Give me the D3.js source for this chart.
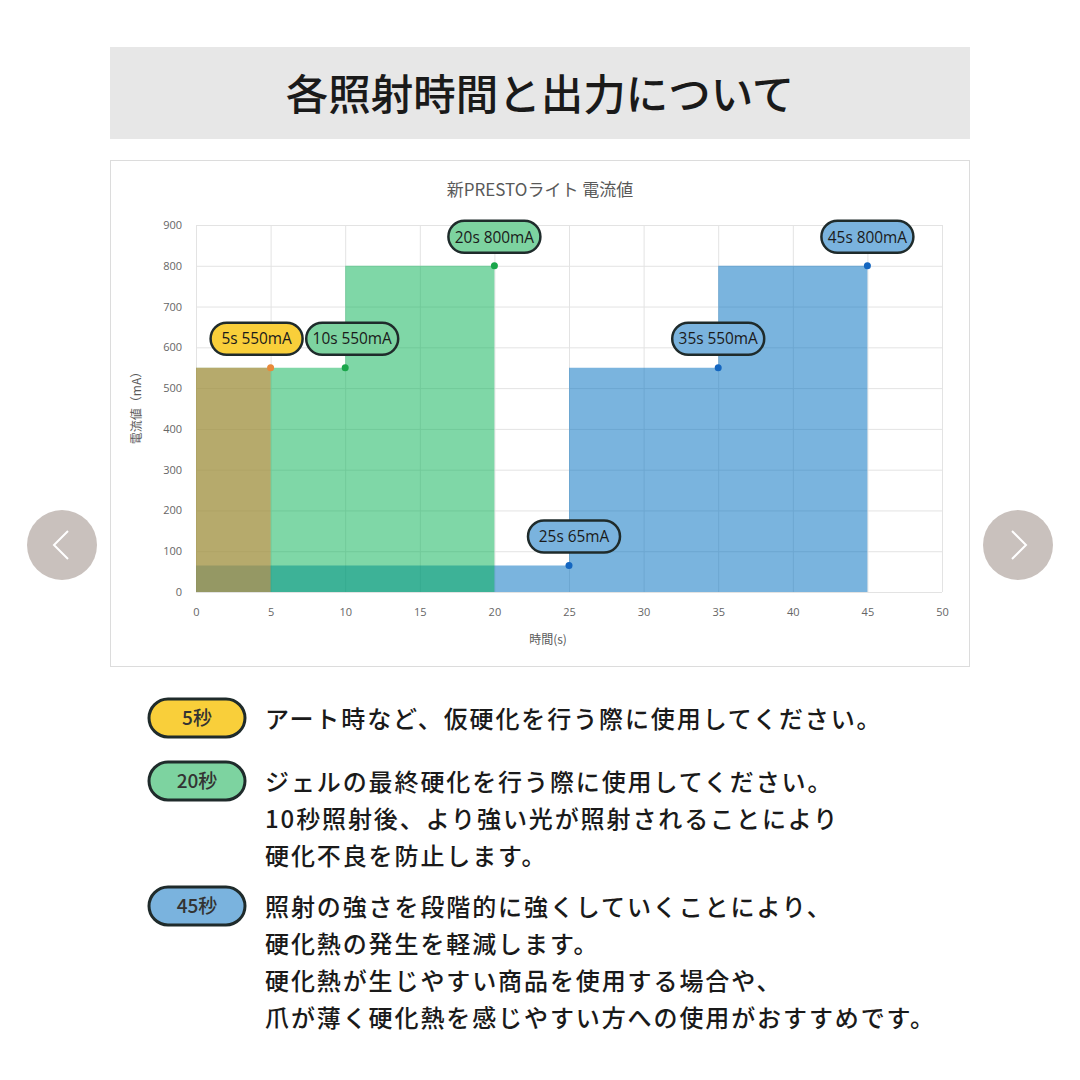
<!DOCTYPE html>
<html>
<head>
<meta charset="utf-8">
<script src="https://cdn.jsdelivr.net/npm/d3@7"></script>
<style>
  body { margin: 0; background: #fff; }
  svg { display: block; font-family: "Noto Sans CJK JP", "Noto Sans", sans-serif; }
</style>
</head>
<body>
<svg id="viz"></svg>
<script>
// chart data
const xTicks = [0, 5, 10, 15, 20, 25, 30, 35, 40, 45, 50];
const yTicks = [0, 100, 200, 300, 400, 500, 600, 700, 800, 900];

// each series: step ends (time, current)
const blueTimes = [0, 25, 35, 45];
const blueValues = [65, 65, 550, 800];
const greenTimes = [0, 10, 20];
const greenValues = [550, 550, 800];
const orangeTimes = [0, 5];
const orangeValues = [550, 550];

// callouts
const calloutTimes = [5, 10, 20, 25, 35, 45];
const calloutValues = [550, 550, 800, 65, 550, 800];
const calloutSeries = ["orange", "green", "green", "blue", "blue", "blue"];

// legend text below the chart
const legendTags = ["5秒", "20秒", "45秒"];
const legendSeries = ["orange", "green", "blue"];
const legendLines = [
  ["アート時など、仮硬化を行う際に使用してください。"],
  ["ジェルの最終硬化を行う際に使用してください。", "10秒照射後、より強い光が照射されることにより", "硬化不良を防止します。"],
  ["照射の強さを段階的に強くしていくことにより、", "硬化熱の発生を軽減します。", "硬化熱が生じやすい商品を使用する場合や、", "爪が薄く硬化熱を感じやすい方への使用がおすすめです。"]
];

const W = 1080, H = 1080;
const svg = d3.select("#viz").attr("width", W).attr("height", H);

// colours
const fills = { blue: "rgba(0,112,192,0.52)", green: "rgba(0,176,80,0.5)", orange: "rgba(237,125,49,0.5)" };
const dots = { blue: "#1466c0", green: "#1aa64a", orange: "#e88a3a" };
const tagFill = { blue: "#7ab3de", green: "#7dd3a0", orange: "#f9cf3a" };

// header bar
svg.append("rect").attr("x", 110).attr("y", 47).attr("width", 860).attr("height", 92).attr("fill", "#e7e7e7");
svg.append("text").attr("x", 540).attr("y", 110).attr("text-anchor", "middle")
  .attr("font-size", 42.5).attr("font-weight", 500).attr("fill", "#1a1a1a")
  .text("各照射時間と出力について");

// chart frame
svg.append("rect").attr("x", 110.5).attr("y", 160.5).attr("width", 859).attr("height", 506)
  .attr("fill", "#fff").attr("stroke", "#dcdcdc");

// carousel arrows
[62, 1018].forEach((cx, i) => {
  svg.append("circle").attr("cx", cx).attr("cy", 545).attr("r", 35).attr("fill", "#c9c1bd");
  const d = i === 0 ? `M${cx + 6},${545 - 14} L${cx - 8},545 L${cx + 6},${545 + 14}`
                    : `M${cx - 6},${545 - 14} L${cx + 8},545 L${cx - 6},${545 + 14}`;
  svg.append("path").attr("d", d).attr("fill", "none").attr("stroke", "#fff").attr("stroke-width", 2);
});

// plot area
const x = d3.scaleLinear().domain([0, 50]).range([196, 942]);
const y = d3.scaleLinear().domain([0, 900]).range([592, 225]);

svg.append("text").attr("x", 540).attr("y", 196).attr("text-anchor", "middle")
  .attr("font-size", 17).attr("fill", "#595959").text("新PRESTOライト 電流値");

// grid + axes
const gx = svg.append("g").attr("transform", "translate(0,592)")
  .call(d3.axisBottom(x).tickValues(xTicks).tickSize(-367).tickPadding(16));
const gy = svg.append("g").attr("transform", "translate(196,0)")
  .call(d3.axisLeft(y).tickValues(yTicks).tickSize(-746).tickPadding(14));
[gx, gy].forEach(g => {
  g.select(".domain").remove();
  g.selectAll("line").attr("stroke", "#e3e3e3");
  g.selectAll("text").attr("fill", "#666").attr("font-size", 11).attr("font-family", "Open Sans, sans-serif");
});

svg.append("text").attr("x", 548).attr("y", 644).attr("text-anchor", "middle")
  .attr("font-size", 12).attr("fill", "#595959").text("時間(s)");
svg.append("text").attr("transform", "translate(141,405) rotate(-90)").attr("text-anchor", "middle")
  .attr("font-size", 12).attr("fill", "#595959").text("電流値（mA）");

// stepped areas
const area = d3.area().curve(d3.curveStepBefore)
  .x(d => x(d[0])).y0(y(0)).y1(d => y(d[1]));
const series = [
  ["blue", d3.zip(blueTimes, blueValues)],
  ["green", d3.zip(greenTimes, greenValues)],
  ["orange", d3.zip(orangeTimes, orangeValues)]
];
series.forEach(([key, pts]) => {
  svg.append("path").datum(pts).attr("d", area).attr("fill", fills[key]);
});

// markers
const callouts = calloutTimes.map((t, i) => ({ t, v: calloutValues[i], s: calloutSeries[i] }));
svg.selectAll("circle.dot").data(callouts).enter().append("circle").attr("class", "dot")
  .attr("cx", d => x(d.t)).attr("cy", d => y(d.v)).attr("r", 3.5).attr("fill", d => dots[d.s]);

// callout pills (nudged sideways where they would overlap)
const nudge = { 5: -14, 10: 7, 25: 5 };
const cg = svg.selectAll("g.callout").data(callouts).enter().append("g").attr("class", "callout")
  .attr("transform", d => `translate(${x(d.t) + (nudge[d.t] || 0)},${y(d.v) - 29})`);
cg.append("rect").attr("x", -46).attr("y", -16).attr("width", 92).attr("height", 32).attr("rx", 16)
  .attr("fill", d => tagFill[d.s]).attr("stroke", "#1f2b2b").attr("stroke-width", 2.5);
cg.append("text").attr("text-anchor", "middle").attr("dy", "0.36em")
  .attr("font-size", 16).attr("fill", "#1a1a1a")
  .attr("font-family", "Open Sans, sans-serif")
  .text(d => `${d.t}s ${d.v}mA`)
  .attr("textLength", function () { return this.textContent.length * 8.8; })
  .attr("lengthAdjust", "spacingAndGlyphs");

// legend
const tagY = [718, 781, 906];
legendTags.forEach((tag, i) => {
  const g = svg.append("g").attr("transform", `translate(197,${tagY[i]})`);
  g.append("rect").attr("x", -48).attr("y", -19).attr("width", 96).attr("height", 38).attr("rx", 19)
    .attr("fill", tagFill[legendSeries[i]]).attr("stroke", "#1f2b2b").attr("stroke-width", 3);
  g.append("text").attr("text-anchor", "middle").attr("dy", "0.36em").attr("font-size", 19)
    .attr("font-weight", 500).attr("fill", "#333").text(tag);
  legendLines[i].forEach((line, j) => {
    svg.append("text").attr("x", 265).attr("y", tagY[i] + 1 + j * 37).attr("dy", "0.36em")
      .attr("font-size", 24).attr("letter-spacing", 1.9).attr("font-weight", 500)
      .attr("fill", "#1a1a1a").text(line);
  });
});
</script>
</body>
</html>
